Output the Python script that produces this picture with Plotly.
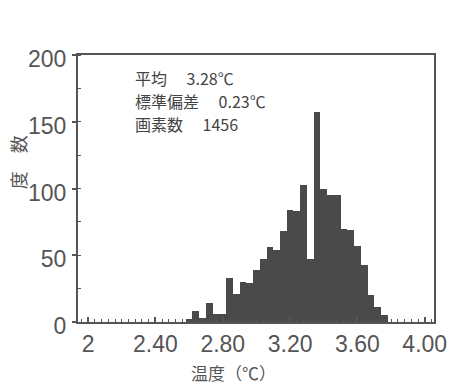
import plotly.graph_objects as go

# ---- data ----
bin_start = 2.00          # centre of first bin
bin_width = 0.04
counts = [0, 0, 0, 0, 0, 0, 0, 0, 0, 0,
          0, 0, 0, 0, 0, 2, 8, 3, 14, 6,
          6, 33, 21, 30, 29, 39, 47, 56, 54, 68,
          84, 83, 103, 47, 157, 100, 95, 95, 70, 69,
          57, 43, 20, 11, 5, 0, 0, 0, 0, 0, 0]
bin_centers = [round(bin_start + bin_width * i, 2) for i in range(len(counts))]

x_tickvals = [2.0, 2.4, 2.8, 3.2, 3.6, 4.0]
x_ticktext = ["2", "2.40", "2.80", "3.20", "3.60", "4.00"]
y_tickvals = [0, 50, 100, 150, 200]

stats_labels = ["平均", "標準偏差", "画素数"]
stats_values = ["3.28℃", "0.23℃", "1456"]
x_title = "温度（℃）"
y_title = "度　数"

# ---- layout geometry (pixels) ----
W, H = 459, 385
L, R, T, B = 78, 18, 55, 63
PW, PH = W - L - R, H - T - B

def px(x):
    return (x - L) / PW

def py(y):
    return (H - B - y) / PH

GRAY = "#555555"
BAR = "#4a4a4a"
CJK = "Noto Sans CJK JP"
LAT = "Liberation Sans, Arial, sans-serif"

fig = go.Figure()
fig.add_trace(go.Bar(
    x=bin_centers, y=counts, width=bin_width,
    marker=dict(color=BAR, line=dict(width=0)),
    hoverinfo="skip",
))

fig.update_layout(
    width=W, height=H,
    margin=dict(l=L, r=R, t=T, b=B, pad=0),
    paper_bgcolor="white", plot_bgcolor="white",
    showlegend=False, bargap=0,
    font=dict(family=LAT, color=GRAY),
)

fig.update_xaxes(
    range=[1.94, 4.055],
    tickvals=x_tickvals, ticktext=x_ticktext,
    ticks="inside", ticklen=5, tickwidth=1.5, tickcolor=GRAY,
    minor=dict(ticks="inside", ticklen=3, tickwidth=1, tickcolor=GRAY,
               tick0=2.0, dtick=bin_width),
    showline=True, linewidth=2, linecolor=GRAY, mirror=True,
    showgrid=False, zeroline=False,
    tickfont=dict(family=LAT, size=23, color=GRAY),
    ticklabelstandoff=0,
)
fig.update_yaxes(
    range=[0, 200],
    tickvals=y_tickvals,
    ticks="outside", ticklen=4, tickwidth=1.5, tickcolor=GRAY,
    minor=dict(ticks="inside", ticklen=3, tickwidth=1, tickcolor=GRAY,
               tick0=0, dtick=25),
    showline=True, linewidth=2, linecolor=GRAY, mirror=True,
    showgrid=False, zeroline=False,
    tickfont=dict(family=LAT, size=23, color=GRAY),
    ticklabelshift=4,
    ticklabelstandoff=1,
)

line_y = [78, 101, 124]
for lab, val, yy in zip(stats_labels, stats_values, line_y):
    fig.add_annotation(
        xref="paper", yref="paper", x=px(135), y=py(yy),
        xanchor="left", yanchor="middle", align="left", showarrow=False,
        text=f"{lab}　 {val}", font=dict(family=CJK, size=16, color="#444444"),
        borderpad=0,
    )
fig.add_annotation(
    xref="paper", yref="paper", x=px(237), y=py(372),
    xanchor="center", yanchor="middle", showarrow=False,
    text=x_title, font=dict(family=CJK, size=17, color=GRAY), borderpad=0,
)
fig.add_annotation(
    xref="paper", yref="paper", x=px(17), y=py(162),
    xanchor="center", yanchor="middle", showarrow=False, textangle=-90,
    text=y_title, font=dict(family=CJK, size=18, color=GRAY),
)

# remove the browser's default 8px body margin so the figure sits at (0, 0)
fig.write_html("out.html", config={"displayModeBar": False},
               post_script="document.body.style.margin='0';")
